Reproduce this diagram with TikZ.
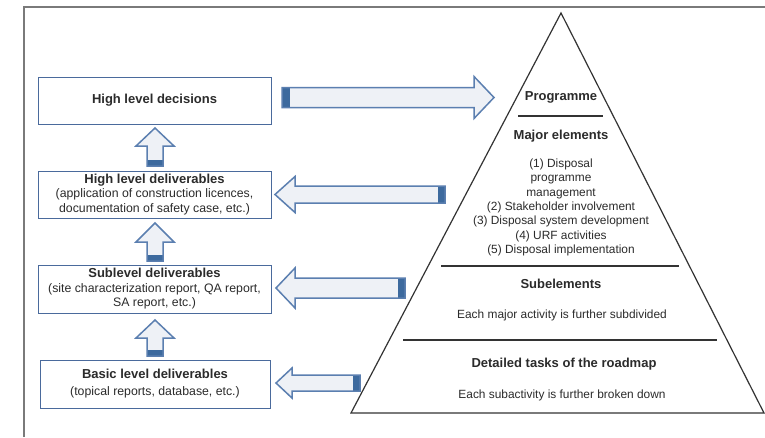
\documentclass[tikz,border=0pt]{standalone}
\usepackage{fontspec}
\setmainfont{Liberation Sans}
\definecolor{boxblue}{HTML}{4A6A9C}
\definecolor{arrowline}{HTML}{5B7FB0}
\definecolor{arrowfill}{HTML}{EEF1F6}
\definecolor{bandblue}{HTML}{3D6A9E}
\definecolor{txt}{HTML}{2B2B2B}
\definecolor{framegray}{HTML}{7A7A7A}
\definecolor{trigray}{HTML}{333333}
\begin{document}
\begin{tikzpicture}[x=1pt,y=-1pt,
  lvlbox/.style={draw=boxblue, line width=1pt, minimum width=233pt, inner sep=0pt, align=center, text=txt,
    font=\fontsize{12.3}{14.5}\selectfont},
  tritext/.style={text=txt, align=center, inner sep=0pt, font=\fontsize{11.9}{14.3}\selectfont},
  tribold/.style={text=txt, align=center, inner sep=0pt, font=\fontsize{13}{15}\selectfont\bfseries},
  arrowout/.style={draw=arrowline, line width=1.5pt, line join=miter},
  arrowin/.style={fill=arrowfill},
  bandst/.style={fill=bandblue},
  divline/.style={draw=trigray, line width=1.1pt}]
\useasboundingbox (0,0) rectangle (765,437);
\fill[white] (0,0) rectangle (765,437);
% frame
\draw[framegray, line width=1.5pt] (24,437) -- (24,7) -- (765,7);

% left boxes
\node[lvlbox, minimum height=47pt] (hld) at (154.5,100.5)
  {\fontsize{13}{15}\selectfont\bfseries High level decisions};
\node[lvlbox, minimum height=47pt] (hldel) at (154.5,194.5)
  {{\fontsize{13}{14.5}\selectfont\bfseries High level deliverables}\\
   (application of construction licences,\\
   documentation of safety case, etc.)};
\node[lvlbox, minimum height=48pt] (sub) at (154.5,289)
  {{\fontsize{13}{14.5}\selectfont\bfseries Sublevel deliverables}\\
   (site characterization report, QA report,\\
   SA report, etc.)};
\node[lvlbox, minimum width=230pt, minimum height=48pt] (basic) at (155,384)
  {{\fontsize{13}{14.5}\selectfont\bfseries Basic level deliverables}\\[2.5pt]
   (topical reports, database, etc.)};

% up arrows
\foreach \tip/\hb/\tl in {128/146/166, 223/242/261, 320/338/356}{
  \path[arrowin] (147,\tl) -- (147,\hb) -- (136,\hb) -- (155,\tip) -- (174,\hb) -- (163,\hb) -- (163,\tl) -- cycle;
  \path[bandst] (147,\tl-6) rectangle (163,\tl);
  \path[arrowout] (147,\tl) -- (147,\hb) -- (136,\hb) -- (155,\tip) -- (174,\hb) -- (163,\hb) -- (163,\tl) -- cycle;
}

% right arrow to Programme
\path[arrowin] (282,87.5) -- (474,87.5) -- (474,76.5) -- (494,97.5) -- (474,118.5) -- (474,107.5) -- (282,107.5) -- cycle;
\path[bandst] (282,87.5) rectangle (290,107.5);
\path[arrowout] (282,87.5) -- (474,87.5) -- (474,76.5) -- (494,97.5) -- (474,118.5) -- (474,107.5) -- (282,107.5) -- cycle;

% left arrows
\foreach \cy/\tipx/\hbx/\hh/\sh/\tailx in {194.5/275/295/18/8.5/445, 288/276/295/20/10/405, 383/276/292/15/8/360}{
  \path[arrowin] (\tailx,\cy-\sh) -- (\hbx,\cy-\sh) -- (\hbx,\cy-\hh) -- (\tipx,\cy) -- (\hbx,\cy+\hh) -- (\hbx,\cy+\sh) -- (\tailx,\cy+\sh) -- cycle;
  \path[bandst] (\tailx-7,\cy-\sh) rectangle (\tailx,\cy+\sh);
  \path[arrowout] (\tailx,\cy-\sh) -- (\hbx,\cy-\sh) -- (\hbx,\cy-\hh) -- (\tipx,\cy) -- (\hbx,\cy+\hh) -- (\hbx,\cy+\sh) -- (\tailx,\cy+\sh) -- cycle;
}

% pyramid
\coordinate (apex) at (561,13);
\coordinate (bl) at (351,413);
\coordinate (br) at (764,413);
\draw[trigray, line width=1.2pt, line join=miter] (apex) -- (bl) -- (br) -- cycle;
\draw[divline] (518,116) -- (603,116);
\draw[divline] (441,266) -- (679,266);
\draw[divline] (403,340) -- (717,340);

\node[tribold] (prog) at (561,97) {Programme};
\node[tribold] (major) at (561,136) {Major elements};
\node[tritext] (list) at (561,207.5) {(1) Disposal\\programme\\management\\(2) Stakeholder involvement\\(3) Disposal system development\\(4) URF activities\\(5) Disposal implementation};
\node[tribold] (subel) at (561,284) {Subelements};
\node[tritext] (subtxt) at (562,315) {Each major activity is further subdivided};
\node[tribold] (tasks) at (564,364) {Detailed tasks of the roadmap};
\node[tritext] (tasktxt) at (562,395) {Each subactivity is further broken down};
\end{tikzpicture}
\end{document}
